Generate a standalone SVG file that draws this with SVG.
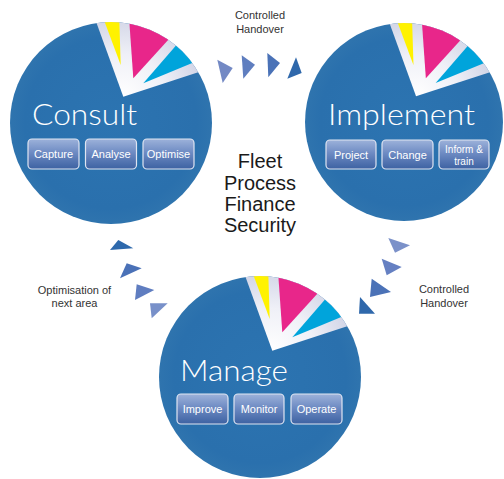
<svg xmlns="http://www.w3.org/2000/svg" xmlns:xlink="http://www.w3.org/1999/xlink" width="504" height="479" viewBox="0 0 504 479">
<defs>
<style>
.lbl{font-family:"Liberation Sans",Arial,sans-serif;font-size:11px;fill:#333;text-anchor:middle}
.bt{font-family:"Liberation Sans",Arial,sans-serif;font-size:11px;fill:#fff;text-anchor:middle}
.bt2{font-family:"Liberation Sans",Arial,sans-serif;font-size:10px;fill:#fff;text-anchor:middle}
.btr{fill:url(#btg);stroke:#dfe5f2;stroke-width:1.2}
.title{font-family:Lato,"Open Sans","DejaVu Sans",sans-serif;font-weight:300;font-size:29px;fill:#fff}
.ctr{font-family:"Liberation Sans",Arial,sans-serif;font-size:20px;fill:#1a1a1a;text-anchor:middle}
</style>
<radialGradient id="blue" cx="0.5" cy="0.5" r="0.5">
<stop offset="0" stop-color="#2c74b1"/>
<stop offset="0.85" stop-color="#2a70ad"/>
<stop offset="1" stop-color="#2f74ae"/>
</radialGradient>
<radialGradient id="wg" gradientUnits="userSpaceOnUse" cx="12" cy="-26" r="95">
<stop offset="0" stop-color="#ffffff"/>
<stop offset="0.45" stop-color="#eff0f7"/>
<stop offset="1" stop-color="#c6cae0"/>
</radialGradient>
<linearGradient id="btg" x1="0" y1="0" x2="0" y2="1">
<stop offset="0" stop-color="#9db2da"/>
<stop offset="0.45" stop-color="#6e8bc3"/>
<stop offset="1" stop-color="#3d62a2"/>
</linearGradient>
<clipPath id="cc"><circle r="101"/></clipPath>
<g id="pie">
<circle r="101" fill="url(#blue)"/>
<g clip-path="url(#cc)">
<path d="M12.3,-26.3 L-21,-118 L0,-140 L140,-110 L119,-61 Z" fill="url(#wg)"/>
<polygon points="9.7,-58 -10,-111 8,-112" fill="#fff200"/>
<polygon points="22.3,-44.7 17.5,-113 80,-110 68,-95" fill="#e8268a"/>
<polygon points="32.3,-39.7 76.7,-91 110,-90 100,-67.7" fill="#00a4db"/>
</g>
</g>
</defs>
<rect width="504" height="479" fill="#fff"/>

<g id="consult">
<use xlink:href="#pie" href="#pie" transform="translate(111,123)"/>
<text class="title" x="32" y="125" textLength="105" lengthAdjust="spacingAndGlyphs">Consult</text>
<rect class="btr" x="28" y="139" width="51" height="30" rx="4"/>
<text class="bt" x="53.5" y="158">Capture</text>
<rect class="btr" x="85.5" y="139" width="51" height="30" rx="4"/>
<text class="bt" x="111" y="158">Analyse</text>
<rect class="btr" x="143" y="139" width="51" height="30" rx="4"/>
<text class="bt" x="168.5" y="158">Optimise</text>
</g>

<g id="implement">
<use xlink:href="#pie" href="#pie" transform="translate(404,122) scale(0.98)"/>
<text class="title" x="328" y="125" textLength="147" lengthAdjust="spacingAndGlyphs">Implement</text>
<rect class="btr" x="326" y="140" width="50" height="29" rx="4"/>
<text class="bt" x="351" y="159">Project</text>
<rect class="btr" x="382" y="140" width="51" height="29" rx="4"/>
<text class="bt" x="407.5" y="159">Change</text>
<rect class="btr" x="439" y="140" width="50" height="29" rx="4"/>
<text class="bt2" x="464" y="153">Inform &amp;</text>
<text class="bt2" x="464" y="164.5">train</text>
</g>

<g id="manage">
<use xlink:href="#pie" href="#pie" transform="translate(260,377)"/>
<text class="title" x="180" y="381" textLength="108" lengthAdjust="spacingAndGlyphs">Manage</text>
<rect class="btr" x="177" y="394" width="51" height="30" rx="4"/>
<text class="bt" x="202.5" y="413">Improve</text>
<rect class="btr" x="234" y="394" width="50" height="30" rx="4"/>
<text class="bt" x="259" y="413">Monitor</text>
<rect class="btr" x="291" y="394" width="51" height="30" rx="4"/>
<text class="bt" x="316.5" y="413">Operate</text>
</g>

<g id="center">
<text class="ctr" x="260" y="168">Fleet</text>
<text class="ctr" x="260" y="190">Process</text>
<text class="ctr" x="260" y="211">Finance</text>
<text class="ctr" x="260" y="232">Security</text>
</g>

<g id="connectors">
<g id="handover-top">
<polygon points="217.3,59.7 232.7,68 222.7,83" fill="#7389c4"/>
<polygon points="241.7,55.3 255,64.7 243.3,78.7" fill="#5f7ebf"/>
<polygon points="267.3,53 280,63 268.3,77.3" fill="#4a72b7"/>
<polygon points="296,57.3 301.7,73 287.3,78.7" fill="#2f68ab"/>
<text class="lbl" x="260" y="19">Controlled</text>
<text class="lbl" x="260" y="33">Handover</text>
</g>
<g id="handover-right">
<polygon points="388.3,238 410,245.3 395,252.7" fill="#7b91c9"/>
<polygon points="381.7,258.7 401.7,267 386.7,275.3" fill="#6580c2"/>
<polygon points="371.7,278.7 391,292 370,297" fill="#4b72b7"/>
<polygon points="360,297 375,313.7 359,313.7" fill="#2f68ab"/>
<text class="lbl" x="444" y="293">Controlled</text>
<text class="lbl" x="444" y="307">Handover</text>
</g>
<g id="optimisation">
<polygon points="118.3,240 133.3,248.3 110,250" fill="#2e69ac"/>
<polygon points="126.7,263.3 141.7,268.3 120,278.3" fill="#4a71b7"/>
<polygon points="136.7,284.3 154.3,290 135,300" fill="#5f7dc0"/>
<polygon points="150,303.3 167.7,303.3 151.7,318.3" fill="#7890c9"/>
<text class="lbl" x="74.5" y="294">Optimisation of</text>
<text class="lbl" x="74.5" y="307">next area</text>
</g>
</g>
</svg>
